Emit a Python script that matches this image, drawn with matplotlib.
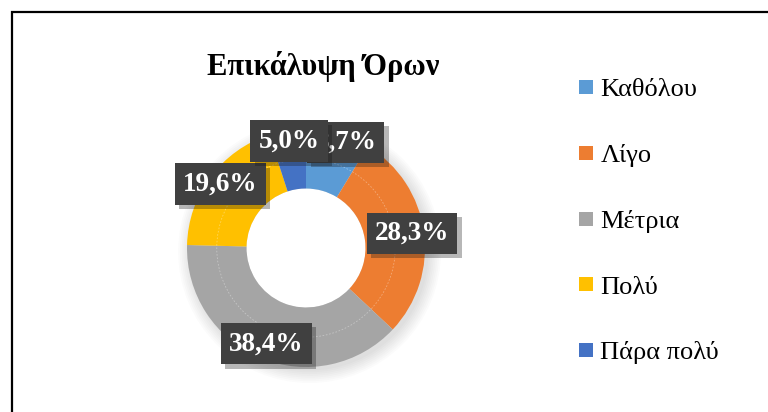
import matplotlib
matplotlib.use("Agg")
import matplotlib.pyplot as plt
import numpy as np
from matplotlib.lines import Line2D
from matplotlib.patches import Rectangle, Circle
import matplotlib.patheffects as pe

# Data
categories = ['Καθόλου', 'Λίγο', 'Μέτρια', 'Πολύ', 'Πάρα πολύ']
percents = [8.7, 28.3, 38.4, 19.6, 5.0]
colors = ['#5B9BD5', '#ED7D31', '#A5A5A5', '#FFC000', '#4472C4']
title = 'Επικάλυψη Όρων'

FONT = ['Liberation Serif', 'DejaVu Serif']
plt.rcParams['font.family'] = FONT

W, H = 768, 412
fig = plt.figure(figsize=(W / 100, H / 100), dpi=100)

# outer frame (left and top edges visible)
fig.add_artist(Rectangle((12 / W, -0.2), 1.2, (H - 12) / H + 0.2, transform=fig.transFigure,
                         fill=False, edgecolor='black', linewidth=1.6))

# donut axes: center (306, 248) px, radius 119 px
cx, cy, R = 306, 248, 119
ax = fig.add_axes([(cx - R) / W, (H - cy - R) / H, 2 * R / W, 2 * R / H])
ax.axis('off')

# soft shadow around the ring
for i in range(8):
    ax.add_patch(Circle((0.03, -0.03), 1.0 + 0.015 * i, color='black', alpha=0.015,
                        zorder=0, lw=0, clip_on=False))
ax.add_patch(Circle((0, 0), 0.5, color='white', zorder=1, lw=0))

wedges, _ = ax.pie(percents, colors=colors, startangle=90, counterclock=False,
                   radius=1.0, wedgeprops=dict(width=0.5, linewidth=0))
for w in wedges:
    w.set_zorder(2)
ax.add_patch(Circle((0, 0), 0.75, fill=False, edgecolor='white', alpha=0.35, lw=0.6,
                    linestyle=(0, (2, 2)), zorder=3))
ax.set_xlim(-1, 1)
ax.set_ylim(-1, 1)

# data labels
lab_r = [0.95, 0.9, 0.87, 0.9, 0.91]
lab_da = [-5, 0, 0, 0, 0]
cum = np.cumsum([0] + percents[:-1])
total = sum(percents)
for i, p in enumerate(percents):
    mid = 90 - 360 * (cum[i] + p / 2) / total + lab_da[i]
    x = lab_r[i] * np.cos(np.radians(mid))
    y = lab_r[i] * np.sin(np.radians(mid))
    txt = f'{p:.1f}%'.replace('.', ',')
    t = ax.text(x, y, txt, ha='center', va='center', fontsize=19.5, fontweight='bold',
                family=FONT, color='white', zorder=6 + i,
                bbox=dict(boxstyle='square,pad=0.3', facecolor='#404040', edgecolor='none'))
    t.get_bbox_patch().set_path_effects([pe.SimplePatchShadow(offset=(3, -3), alpha=0.3),
                                         pe.Normal()])

# title
fig.text(323 / W, (H - 75) / H, title, ha='center', va='baseline', fontsize=22,
         fontweight='bold', family=FONT)

# legend
handles = [Line2D([], [], marker='s', linestyle='none', markersize=10, markerfacecolor=c,
                  markeredgewidth=0) for c in colors]
fig.legend(handles, categories, loc='upper left', bbox_to_anchor=(578 / W, (H - 78) / H),
           frameon=False, prop={'family': FONT, 'size': 19}, handlelength=0.6,
           handletextpad=0.25, labelspacing=1.6, borderpad=0, borderaxespad=0)

fig.savefig('out.png', dpi=100, facecolor='white')
